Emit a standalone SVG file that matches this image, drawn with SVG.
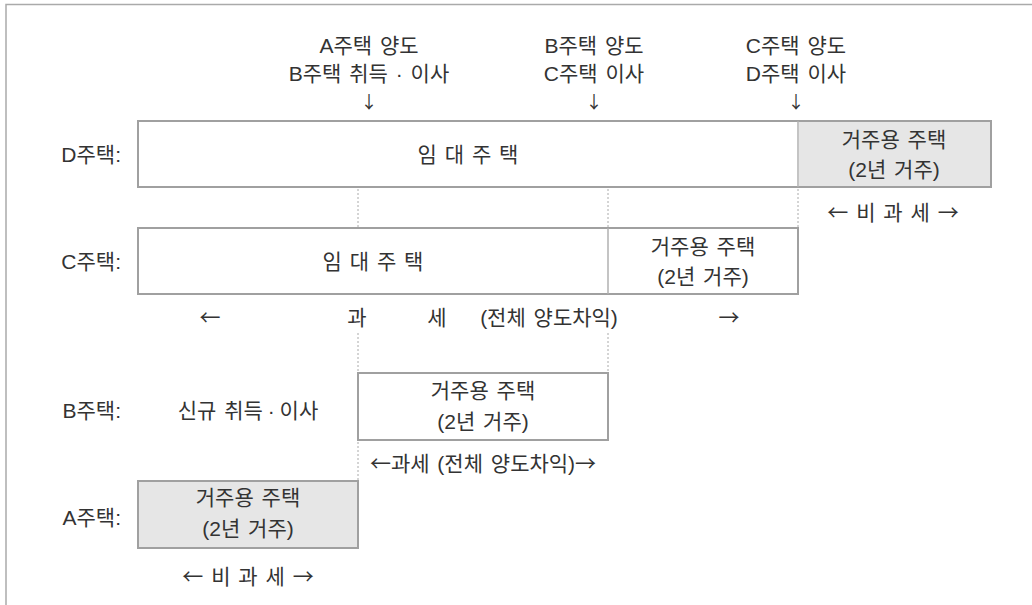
<svg xmlns="http://www.w3.org/2000/svg" width="1032" height="605" viewBox="0 0 1032 605">
<style>
text{font-family:"Liberation Sans","Noto Sans CJK KR",sans-serif;font-size:21px;word-spacing:2px;fill:#333;text-anchor:middle}
.lbl{text-anchor:end;word-spacing:0}
.ar{font-family:"Noto Sans CJK KR",sans-serif}
.down{font-family:"Noto Sans CJK KR",sans-serif;font-size:17px}
.tight{word-spacing:-1px}
.box{fill:#fff;stroke:#a0a0a0;stroke-width:2}
.gray{fill:#e6e6e6}
.div{stroke:#b0b0b0;stroke-width:1.5}
.dot{stroke:#aaa;stroke-width:1;stroke-dasharray:2 2;fill:none}
.frame{stroke:#aaa;stroke-width:1.5;fill:none}
</style>
<rect width="1032" height="605" fill="#fff"/>
<path class="frame" d="M6,605 V4.5 H1032"/>
<g id="events">
<text x="369" y="53">A주택 양도</text>
<text x="369" y="81">B주택 취득 · 이사</text>
<text class="down" x="369" y="108">↓</text>
<text x="594" y="53">B주택 양도</text>
<text x="594" y="81">C주택 이사</text>
<text class="down" x="594" y="108">↓</text>
<text x="796" y="53">C주택 양도</text>
<text x="796" y="81">D주택 이사</text>
<text class="down" x="796" y="108">↓</text>
</g>
<g id="connectors">
<line class="dot" x1="358" y1="189" x2="358" y2="227"/>
<line class="dot" x1="608" y1="189" x2="608" y2="227"/>
<line class="dot" x1="798" y1="189" x2="798" y2="227"/>
<line class="dot" x1="358" y1="333" x2="358" y2="372"/>
<line class="dot" x1="608" y1="333" x2="608" y2="372"/>
<line class="dot" x1="358" y1="442" x2="358" y2="480"/>
</g>
<g id="houseD">
<text class="lbl" x="121" y="162">D주택:</text>
<rect class="box" x="138" y="121" width="853" height="66"/>
<rect class="gray" x="799" y="122" width="191" height="64"/>
<line class="div" x1="798" y1="121" x2="798" y2="187"/>
<text x="468" y="162">임 대 주 택</text>
<text x="894" y="147">거주용 주택</text>
<text x="894" y="177">(2년 거주)</text>
<text x="893" y="220"><tspan class="ar">←</tspan> 비 과 세 <tspan class="ar">→</tspan></text>
</g>
<g id="houseC">
<text class="lbl" x="121" y="269">C주택:</text>
<rect class="box" x="138" y="228" width="660" height="66"/>
<line class="div" x1="608" y1="228" x2="608" y2="294"/>
<text x="373" y="269">임 대 주 택</text>
<text x="703" y="254">거주용 주택</text>
<text x="703" y="284">(2년 거주)</text>
<text class="ar" x="210" y="325">←</text>
<text x="357" y="325">과</text>
<text x="437" y="325">세</text>
<text x="549" y="325">(전체 양도차익)</text>
<text class="ar" x="729" y="325">→</text>
</g>
<g id="houseB">
<text class="lbl" x="121" y="418">B주택:</text>
<text x="248" y="418">신규 취득<tspan class="tight"> · </tspan>이사</text>
<rect class="box" x="358" y="373" width="250" height="67"/>
<text x="483" y="398">거주용 주택</text>
<text x="483" y="429">(2년 거주)</text>
<text x="483" y="471"><tspan class="ar">←</tspan>과세 (전체 양도차익)<tspan class="ar">→</tspan></text>
</g>
<g id="houseA">
<text class="lbl" x="121" y="525">A주택:</text>
<rect class="box gray" x="138" y="481" width="220" height="67"/>
<text x="248" y="505">거주용 주택</text>
<text x="248" y="536">(2년 거주)</text>
<text x="248" y="584"><tspan class="ar">←</tspan> 비 과 세 <tspan class="ar">→</tspan></text>
</g>
</svg>
